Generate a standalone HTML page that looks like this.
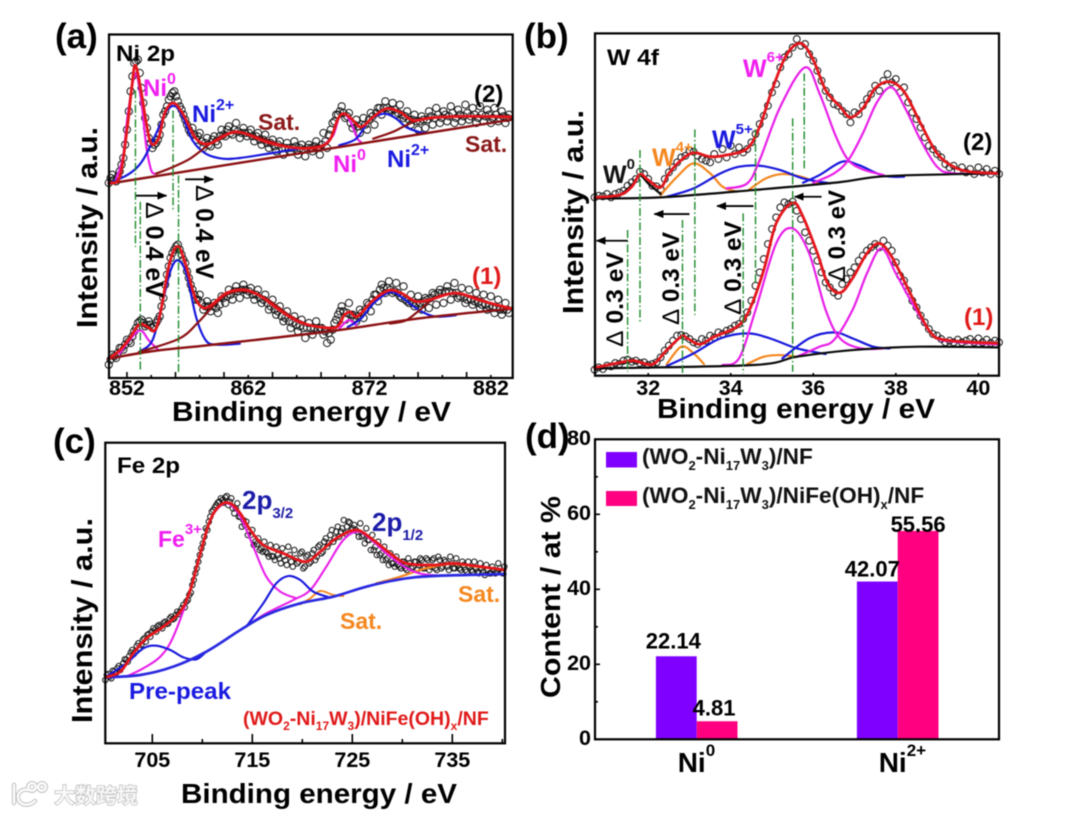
<!DOCTYPE html>
<html lang="en">
<head>
<meta charset="utf-8">
<title>XPS spectra and content chart</title>
<style>
html,body{margin:0;padding:0;background:#fff;width:1080px;height:813px;overflow:hidden}
svg{display:block;filter:blur(0.45px)}
text{font-family:"Liberation Sans","Noto Sans CJK SC",sans-serif;font-weight:bold}
</style>
</head>
<body>
<svg id="figure" xmlns="http://www.w3.org/2000/svg" width="1080" height="813" viewBox="0 0 1080 813">
<defs>
<marker id="arrow-head" markerUnits="userSpaceOnUse" markerWidth="10" markerHeight="8" refX="9" refY="4" orient="auto"><polygon points="0,0 10,4 0,8" fill="#000"/></marker>
</defs>
<rect width="1080" height="813" fill="#fff"/>
<g id="panel-a"></g>
<g id="panel-b"></g>
<g id="panel-c"></g>
<g id="panel-d"></g>

<!-- Panel a text -->
<text x="55" y="48" font-size="35">(a)</text>
<text x="172" y="421" font-size="28" textLength="279" lengthAdjust="spacingAndGlyphs">Binding energy / eV</text>
<text transform="translate(97,328) rotate(-90)" font-size="29" textLength="201" lengthAdjust="spacingAndGlyphs">Intensity / a.u.</text>
<text x="116" y="61" font-size="22" textLength="59" lengthAdjust="spacingAndGlyphs">Ni 2p</text>
<text x="143" y="96" font-size="24" fill="#f01ff0">Ni<tspan dy="-12" font-size="16">0</tspan></text>
<text x="192" y="122" font-size="24" fill="#1a1ae0">Ni<tspan dy="-12" font-size="16">2+</tspan></text>
<text x="258" y="130" font-size="23" fill="#8b1a1a">Sat.</text>
<text x="474" y="102" font-size="24" fill="#000">(2)</text>
<text x="465" y="152" font-size="23" fill="#8b1a1a">Sat.</text>
<text x="333" y="172" font-size="24" fill="#f01ff0">Ni<tspan dy="-12" font-size="16">0</tspan></text>
<text x="387" y="167" font-size="24" fill="#1a1ae0">Ni<tspan dy="-12" font-size="16">2+</tspan></text>
<text x="472" y="284" font-size="24" fill="#e01a1a">(1)</text>
<text transform="translate(146,202) rotate(90)" font-size="25" textLength="96" lengthAdjust="spacingAndGlyphs"><tspan font-weight="normal">Δ</tspan> 0.4 eV</text>
<text transform="translate(196,185) rotate(90)" font-size="25" textLength="94" lengthAdjust="spacingAndGlyphs"><tspan font-weight="normal">Δ</tspan> 0.4 eV</text>

<!-- Panel b text -->
<text x="524" y="48" font-size="35">(b)</text>
<text x="657" y="418" font-size="28" textLength="278" lengthAdjust="spacingAndGlyphs">Binding energy / eV</text>
<text transform="translate(583,314) rotate(-90)" font-size="29" textLength="204" lengthAdjust="spacingAndGlyphs">Intensity / a.u.</text>
<text x="607" y="65" font-size="22" textLength="52" lengthAdjust="spacingAndGlyphs">W 4f</text>
<text x="743" y="77" font-size="25" fill="#f01ff0">W<tspan dy="-15" font-size="15">6+</tspan></text>
<text x="712" y="148" font-size="25" fill="#1a1ae0">W<tspan dy="-14" font-size="15">5+</tspan></text>
<text x="652" y="166" font-size="25" fill="#f5871f">W<tspan dy="-14" font-size="15">4+</tspan></text>
<text x="603" y="183" font-size="25" fill="#111">W<tspan dy="-14" font-size="15">0</tspan></text>
<text x="963" y="150" font-size="24" fill="#000">(2)</text>
<text x="964" y="325" font-size="24" fill="#e01a1a">(1)</text>
<text transform="translate(623,347) rotate(-90)" font-size="24" textLength="95" lengthAdjust="spacingAndGlyphs"><tspan font-weight="normal">Δ</tspan> 0.3 eV</text>
<text transform="translate(679,325) rotate(-90)" font-size="24" textLength="93" lengthAdjust="spacingAndGlyphs"><tspan font-weight="normal">Δ</tspan> 0.3 eV</text>
<text transform="translate(741,315) rotate(-90)" font-size="24" textLength="94" lengthAdjust="spacingAndGlyphs"><tspan font-weight="normal">Δ</tspan> 0.3 eV</text>
<text transform="translate(845,282) rotate(-90)" font-size="24" textLength="92" lengthAdjust="spacingAndGlyphs"><tspan font-weight="normal">Δ</tspan> 0.3 eV</text>

<!-- Panel c text -->
<text x="53" y="453" font-size="35">(c)</text>
<text x="181" y="803" font-size="28" textLength="276" lengthAdjust="spacingAndGlyphs">Binding energy / eV</text>
<text transform="translate(92,723) rotate(-90)" font-size="29" textLength="205" lengthAdjust="spacingAndGlyphs">Intensity / a.u.</text>
<text x="117" y="473" font-size="22" textLength="63" lengthAdjust="spacingAndGlyphs">Fe 2p</text>
<text x="158" y="547" font-size="23" fill="#f01ff0">Fe<tspan dy="-13" font-size="15">3+</tspan></text>
<text x="242" y="509" font-size="26" fill="#1c1ca8">2p<tspan dy="9" font-size="15">3/2</tspan></text>
<text x="372" y="531" font-size="26" fill="#1c1ca8">2p<tspan dy="9" font-size="15">1/2</tspan></text>
<text x="129" y="699" font-size="23" fill="#1a1ae0" textLength="102" lengthAdjust="spacingAndGlyphs">Pre-peak</text>
<text x="340" y="629" font-size="23" fill="#f5871f">Sat.</text>
<text x="458" y="602" font-size="23" fill="#f5871f">Sat.</text>
<text x="243" y="725" font-size="19.5" fill="#e01a1a">(WO<tspan dy="5" font-size="12">2</tspan><tspan dy="-5">-Ni</tspan><tspan dy="5" font-size="12">17</tspan><tspan dy="-5">W</tspan><tspan dy="5" font-size="12">3</tspan><tspan dy="-5">)/NiFe(OH)</tspan><tspan dy="5" font-size="12">x</tspan><tspan dy="-5">/NF</tspan></text>

<!-- Panel d text -->
<text x="525" y="448" font-size="35">(d)</text>
<text transform="translate(560,698) rotate(-90)" font-size="28" textLength="202" lengthAdjust="spacingAndGlyphs">Content / at %</text>
<rect x="606" y="452" width="31" height="15.5" fill="#8000ff"/>
<rect x="606" y="491" width="31" height="15" fill="#ff0080"/>
<text x="642" y="464" font-size="22.6" fill="#111">(WO<tspan dy="6" font-size="13">2</tspan><tspan dy="-6">-Ni</tspan><tspan dy="6" font-size="13">17</tspan><tspan dy="-6">W</tspan><tspan dy="6" font-size="13">3</tspan><tspan dy="-6">)/NF</tspan></text>
<text x="642" y="503" font-size="22.6" fill="#111">(WO<tspan dy="6" font-size="13">2</tspan><tspan dy="-6">-Ni</tspan><tspan dy="6" font-size="13">17</tspan><tspan dy="-6">W</tspan><tspan dy="6" font-size="13">3</tspan><tspan dy="-6">)/NiFe(OH)</tspan><tspan dy="6" font-size="13">x</tspan><tspan dy="-6">/NF</tspan></text>

<!-- Watermark -->
<g fill="none" stroke="#bdbdbd" stroke-width="4.4" stroke-linecap="round">
<path d="M14 785 L14 803"/>
<path d="M29 790 C19 788 16 796 19 801 C22 806 30 806 35 801"/>
<circle cx="32" cy="787" r="3.8"/>
<circle cx="42" cy="787" r="3.8"/>
</g>
<g fill="none" stroke="#fbfbfb" stroke-width="2.6" stroke-linecap="round">
<path d="M14 785 L14 803"/>
<path d="M29 790 C19 788 16 796 19 801 C22 806 30 806 35 801"/>
<circle cx="32" cy="787" r="3.8"/>
<circle cx="42" cy="787" r="3.8"/>
</g>
<text x="54" y="803" font-size="21" fill="#f8f8f8" stroke="#b8b8b8" stroke-width="1.3" paint-order="stroke" font-weight="normal" style="font-family:'Noto Sans CJK SC',sans-serif">大数跨境</text>
</svg>

<script>
/* ---------- Panel (a) Ni 2p: binding energy (eV), intensity (counts) ---------- */
const aMajorTicks=[852,856,860,864,868,872,876,880];
const aMinorTicks=[854,858,862,866,870,874,878,882];
const aTickLabels=[852,862,872,882];
const a2ObsStart=850.5;
const a1ObsStart=850.5;
const a2ObsBStart=850.65;
const a1ObsBStart=850.65;
const aObsStep=0.3;
const a2Obs=[585,610,590,620,660,745,860,945,955,870,780,720,690,705,730,790,815,845,860,830,805,775,745,750,715,735,690,720,695,725,700,745,725,755,730,765,720,750,725,745,710,735,700,730,690,715,680,710,670,705,680,710,670,700,665,700,680,710,670,735,690,745,770,790,815,780,795,750,775,735,780,745,795,760,810,790,830,800,825,790,820,780,800,760,790,745,785,750,800,760,810,765,800,770,815,765,805,770,820,775,810,765,815,770,805,765,810,770,800,765,790];
const a2ObsB=[600,595,605,640,700,800,905,950,915,825,750,705,700,715,760,800,835,855,845,815,790,760,735,730,725,710,705,700,715,710,725,730,745,735,745,740,735,735,735,725,725,715,715,705,705,695,700,690,690,690,690,695,690,685,690,690,695,690,700,710,730,765,790,800,795,785,765,760,755,760,760,775,785,795,810,810,810,805,805,795,790,785,775,775,770,770,775,775,785,780,790,780,790,785,795,780,790,785,795,785,790,780,790,785,790,780,790,780,785,780];
const a1Obs=[40,70,60,90,85,115,105,140,165,175,155,170,150,165,185,240,310,360,385,400,370,345,300,265,235,250,205,230,200,225,195,245,225,265,235,275,240,280,250,270,235,265,225,250,205,235,190,215,170,200,150,185,140,175,120,165,130,170,150,130,105,115,165,190,215,175,225,190,170,205,180,225,200,250,230,280,255,290,255,285,245,275,230,250,215,245,205,240,210,255,220,265,225,275,235,285,240,270,225,265,220,255,210,250,205,245,195,235,190,225,195];
const a1ObsB=[55,65,75,90,100,110,125,150,170,165,160,160,155,175,215,280,335,375,395,385,355,320,280,250,235,225,215,215,215,210,220,240,245,250,260,260,265,265,260,250,250,240,235,225,215,205,200,185,180,170,165,160,155,150,150,150,150,145,150,140,135,145,175,200,200,195,190,180,185,195,205,220,235,250,265,270,270,265,260,255,240,235,225,225,225,225,230,235,240,250,255,255,260,260,255,255,245,240,235,235,230,225,220,220,215,210,210,205,205,205];
const a2Fit=[[850.5,585],[851.4,603],[852,743],[852.4,873],[852.7,938],[853.2,853],[853.6,763],[854,703],[854.6,718],[855.1,793],[855.8,825],[856.6,793],[857.7,718],[858.8,703],[860.5,735],[861.6,735],[863.5,708],[865.7,691],[867.6,691],[868.7,713],[869.4,778],[869.9,793],[870.5,778],[871.3,753],[872.3,783],[873.4,808],[874.5,798],[875.6,773],[877.2,781],[880,785],[883.7,783]];
const a2Base=[[850.5,583],[883.7,775]];
const a2Ni0A=[[851.1,598],[851.67,663],[852.08,793],[852.7,913],[853.2,823],[853.6,693],[854,623],[854.3,613]];
const a2Ni2A=[[850.5,583],[852.2,613],[853.3,653],[854.4,733],[855.3,803],[856,815],[856.6,783],[857.4,713],[858.5,673],[859.9,658],[861.3,660],[864,675],[866.2,688]];
const a2SatA=[[854.4,613],[855.8,633],[857.2,658],[858.5,693],[859.9,728],[861.3,736],[862.6,725],[864,708],[865.4,693],[866.8,691],[868.2,698]];
const a2Ni0B=[[868.2,698],[869,728],[869.5,783],[870,791],[870.5,763],[871,718],[871.3,708]];
const a2Ni2B=[[869.5,698],[870.9,718],[872,773],[873.2,793],[874.2,778],[875,753],[876.1,738],[876.7,736]];
const a2SatB=[[872.3,718],[873.9,738],[875,758],[876.4,778],[879.1,785],[883.7,785]];
const a1Fit=[[850.5,58],[851.4,83],[852.2,118],[853,160],[853.7,153],[854.3,143],[854.8,203],[855.5,343],[856.2,395],[856.9,333],[857.6,243],[858.3,210],[859.1,223],[860.2,255],[861.6,265],[862.9,248],[864.6,203],[866.2,168],[867.9,153],[869.3,153],[869.9,188],[870.4,198],[871,185],[872.3,233],[873.6,263],[874.7,253],[875.8,230],[877,235],[879.1,255],[881.1,233],[883.7,208]];
const a1Base=[[850.5,58],[854.2,81],[859.1,100],[868.9,141],[875.9,178],[883.7,208]];
const a1Ni0A=[[851.4,73],[852.2,113],[853.1,143],[853.8,113],[854.6,83]];
const a1Ni2A=[[853,78],[854.1,113],[854.9,223],[855.6,323],[856.2,353],[856.9,313],[857.7,183],[858.5,113],[859.4,100],[861.3,103]];
const a1SatA=[[853,78],[856.3,118],[857.9,168],[859.3,223],[860.4,253],[861.7,261],[863.5,238],[865.4,188],[867.1,158],[869,148]];
const a1Ni0B=[[869.5,148],[870.2,173],[870.6,168],[870.9,158]];
const a1Ni2B=[[870.2,153],[871.3,178],[872.3,223],[873.7,258],[874.8,238],[875.9,208],[877.3,185],[879.1,188]];
const a1SatB=[[873.7,163],[875,173],[876.1,203],[877.5,243],[879.1,253],[880.8,241],[882.4,218],[883.7,210]];
const aGuides=[[852.7,863,393],[853.1,528,18],[855.8,803,498],[856.25,608,18]];
const aArrows=[[852.75,855.25,547],[856.8,859.1,596]];

/* ---------- Panel (b) W 4f ---------- */
const bTicks=[32,34,36,38,40];
const bObsStart=30.7;
const bObsStep=0.1;
const b2Obs=[535,540,538,545,535,545,550,555,570,580,590,612,605,590,570,568,560,590,610,625,640,655,660,675,672,660,650,645,640,665,650,680,655,690,665,685,670,680,700,725,755,780,810,850,875,925,955,965,985,1010,990,995,965,945,915,885,855,835,815,810,795,785,760,790,785,810,830,845,870,855,885,905,880,890,850,865,820,790,770,745,715,690,680,665,655,635,625,630,615,625,610,620,605,625,610,620,605,615,605];
const b1Obs=[18,25,20,30,28,38,35,45,48,42,45,38,40,32,35,40,55,75,90,105,120,122,118,110,100,95,110,105,120,115,130,125,135,140,150,155,170,190,225,270,310,350,395,440,475,505,520,515,522,495,470,430,405,375,345,310,280,265,250,240,275,290,310,325,345,360,375,385,395,385,405,390,375,340,300,285,255,225,205,180,160,140,125,120,110,100,105,100,108,100,105,110,100,112,100,108,98,105,100];
const b2Fit=[[30.7,535],[31.3,542],[31.6,567],[31.8,604],[32,587],[32.3,565],[32.5,607],[32.8,647],[33.1,669],[33.5,657],[33.9,662],[34.4,682],[34.7,747],[35,857],[35.35,962],[35.7,997],[36,947],[36.3,857],[36.65,807],[36.9,775],[37.2,802],[37.5,862],[37.85,882],[38.2,852],[38.6,757],[39,667],[39.4,627],[39.8,612],[40.5,607]];
const b2Base=[[30.7,532],[32.3,535],[34.55,557],[36.6,580],[37.8,599],[40.5,607]];
const b2W0=[[31.3,539],[31.6,572],[31.8,600],[32,577],[32.3,545]];
const b2W4A=[[32.3,542],[32.7,597],[33.1,637],[33.5,607],[33.8,567],[34.15,552]];
const b2W4B=[[34.45,559],[34.85,592],[35.25,605],[35.7,597],[36.15,577]];
const b2W5A=[[32.45,537],[33.1,562],[33.75,607],[34.2,627],[34.7,630],[35.2,617],[35.75,592],[36.4,577]];
const b2W5B=[[35.75,579],[36.15,602],[36.7,642],[37.1,632],[37.7,600],[38.2,597]];
const b2W6A=[[33.9,562],[34.4,577],[34.7,647],[35.2,807],[35.8,925],[36.15,847],[36.55,717],[36.85,647],[37.2,619],[37.7,602]];
const b2W6B=[[36,579],[36.5,607],[36.85,647],[37.2,727],[37.55,822],[37.9,865],[38.25,797],[38.6,707],[39,627],[39.4,607],[40.5,607]];
const b1Fit=[[30.7,24],[31.3,39],[31.65,45],[32.1,34],[32.45,77],[32.8,117],[32.95,112],[33.25,94],[33.6,117],[34.15,147],[34.45,197],[34.8,317],[35.1,457],[35.5,519],[35.75,477],[36.1,367],[36.35,277],[36.65,249],[36.95,292],[37.3,367],[37.6,397],[37.9,357],[38.35,247],[38.8,137],[39.2,107],[40.5,97]];
const b1Base=[[30.7,22],[34.55,32],[35.6,57],[36.95,77],[38.55,87],[40.5,85]];
const b1W0=[[31.3,35],[31.65,42],[32.1,32]];
const b1W4A=[[32.45,35],[32.8,87],[33.1,67],[33.35,35]];
const b1W4B=[[34.4,35],[34.8,57],[35.2,62],[35.6,57]];
const b1W5A=[[32.45,29],[33.1,67],[33.75,112],[34.4,127],[34.95,112],[35.6,82],[36.3,65]];
const b1W5B=[[35.25,52],[35.9,112],[36.5,130],[36.95,112],[37.45,87],[37.85,82]];
const b1W6A=[[33.8,32],[34.2,52],[34.6,197],[35.1,397],[35.5,442],[35.9,367],[36.3,197],[36.65,112],[37.15,82],[37.7,82]];
const b1W6B=[[35.6,57],[36.15,87],[36.5,107],[36.95,197],[37.3,307],[37.65,382],[38,307],[38.4,217],[38.9,122],[39.4,102],[40.5,94]];
const bGuides=[[31.8,677,162],[31.5,437,12],[33.13,739,182],[32.83,467,2],[34.6,739,277],[34.3,487,7],[35.78,907,617],[35.5,772,12]];
const bArrows=[[31.5,30.75,405],[33,32.15,485],[34.55,33.67,509],[36.2,35.55,537]];

/* ---------- Panel (c) Fe 2p ---------- */
const cMajorTicks=[705,715,725,735];
const cMinorTicks=[710,720,730,740];
const cTickLabels=[705,715,725,735];
const cObsStart=700.3;
const cObsBStart=700.45;
const cObsStep=0.3;
const cObs=[190,208,195,215,225,220,240,250,262,280,275,300,295,315,325,320,345,335,355,345,365,360,380,375,395,395,415,425,445,475,510,545,585,620,640,680,700,715,725,730,738,715,735,690,720,680,670,665,635,640,605,615,585,605,570,595,560,590,555,585,550,590,545,580,540,570,525,560,540,570,550,590,570,605,590,625,605,635,620,645,630,665,640,655,635,660,625,645,610,625,590,605,570,590,555,570,540,560,530,545,525,555,525,545,520,555,525,555,520,550,525,560,525,550,530,560,525,555,525,545,520,545,520,545,515,540,515,535,510,530,510,540,515,530];
const cObsB=[205,200,218,210,232,228,252,245,272,268,292,285,310,305,328,335,340,352,350,362,358,375,372,385,388,405,408,430,452,490,525,565,600,645,665,695,708,722,735,722,742,725,705,705,680,650,655,625,625,595,598,580,575,575,560,562,550,565,540,562,535,565,530,555,545,575,530,565,545,580,560,595,575,615,600,640,615,650,635,670,650,662,645,640,620,620,600,610,580,580,565,565,550,550,535,540,530,535,525,545,520,540,530,545,535,550,525,550,530,555,520,550,530,545,520,540,525,535,520,535,515,530,515,525,510,525,505,520,510,520,515,525,510];
const cFit=[[700.3,198],[701.8,215],[703.1,270],[704.4,315],[706.1,350],[707.8,395],[708.8,460],[709.8,570],[710.8,670],[711.8,715],[712.8,720],[713.8,690],[714.8,640],[716.1,595],[718.1,570],[720.3,545],[721.8,575],[723.4,615],[725.4,640],[727.1,610],[728.8,570],[730.4,540],[733.1,535],[735.1,540],[737.1,533],[740.3,520]];
const cBase=[[700.3,198],[703.8,205],[707.1,230],[710.4,275],[713.8,340],[716.4,385],[719.8,420],[723.1,440],[726.4,470],[729.8,492],[733.1,502],[740.3,508]];
const cPrePeak=[[700.3,198],[702.4,240],[704.1,285],[705.4,293],[706.8,280],[708.1,258],[709.4,252],[710.4,275]];
const cBlueB=[[714.4,350],[716.1,420],[717.4,480],[718.6,502],[719.8,490],[721.1,455],[722.8,437]];
const cFe32=[[702.4,200],[704.1,225],[705.8,260],[707.1,320],[708.8,460],[709.8,570],[710.8,670],[711.8,712],[712.7,718],[713.8,680],[715.1,590],[716.4,500],[717.8,455],[719.4,435]];
const cFe12=[[714.4,352],[716.4,390],[719.1,430],[720.8,460],[722.4,530],[724.1,610],[725.6,635],[727.1,605],[728.8,560],[730.8,520],[732.8,505],[736.4,505],[740.3,508]];
const cSatA=[[719.8,417],[720.8,435],[721.8,457],[723.1,445],[724.1,442]];
const cSatB=[[727.4,480],[729.8,500],[732.1,523],[734.8,538],[737.4,530],[740.3,520]];

/* ---------- Panel (d) content bars ---------- */
const dCategoryBase=['Ni','Ni'];
const dCategorySup=['0','2+'];
const dSeriesNF=[22.14,42.07];
const dSeriesNiFe=[4.81,55.56];
const dYMajor=[0,20,40,60,80];
const dYMinor=[10,30,50,70];

/* ---------- Drawing ---------- */
const SVG_NS='http://www.w3.org/2000/svg';
const COLORS={red:'#e3161c',dark:'#8b1012',mag:'#e81fe8',blue:'#1818dc',orange:'#f5871f',black:'#0a0a0a',guide:'#1c8a2a'};

function linear(d0,d1,r0,r1){return function(v){return r0+(v-d0)*(r1-r0)/(d1-d0);};}

function drawFrame(group,left,top,right,bottom,name){
  const el=document.createElementNS(SVG_NS,'rect');
  
  
  el.setAttribute('x',left);el.setAttribute('y',top);
  el.setAttribute('width',right-left);el.setAttribute('height',bottom-top);
  el.setAttribute('fill','none');el.setAttribute('stroke','#000');el.setAttribute('stroke-width','2.2');
  group.appendChild(el);
}
function drawTick(group,x1,y1,x2,y2,name){
  const el=document.createElementNS(SVG_NS,'line');
  
  
  el.setAttribute('x1',x1);el.setAttribute('y1',y1);el.setAttribute('x2',x2);el.setAttribute('y2',y2);
  el.setAttribute('stroke','#000');el.setAttribute('stroke-width','1.6');
  group.appendChild(el);
}
function drawLabel(group,x,y,text,size,anchor,name){
  const el=document.createElementNS(SVG_NS,'text');
  
  
  el.setAttribute('x',x);el.setAttribute('y',y);
  el.setAttribute('font-size',size);el.setAttribute('text-anchor',anchor);
  el.textContent=text;
  group.appendChild(el);
}
function smoothPath(points){
  let d='M'+points[0][0].toFixed(2)+' '+points[0][1].toFixed(2);
  for(let i=0;i<points.length-1;i++){
    const p0=points[i-1]||points[i],p1=points[i],p2=points[i+1],p3=points[i+2]||p2;
    const c1x=p1[0]+(p2[0]-p0[0])/6,c1y=p1[1]+(p2[1]-p0[1])/6;
    const c2x=p2[0]-(p3[0]-p1[0])/6,c2y=p2[1]-(p3[1]-p1[1])/6;
    d+='C'+c1x.toFixed(2)+' '+c1y.toFixed(2)+' '+c2x.toFixed(2)+' '+c2y.toFixed(2)+' '+p2[0].toFixed(2)+' '+p2[1].toFixed(2);
  }
  return d;
}
function drawCurve(group,series,sx,sy,color,width,name){
  const el=document.createElementNS(SVG_NS,'path');
  
  
  el.setAttribute('d',smoothPath(series.map(function(p){return [sx(p[0]),sy(p[1])];})));
  el.setAttribute('fill','none');el.setAttribute('stroke',color);
  el.setAttribute('stroke-width',width);el.setAttribute('stroke-linejoin','round');el.setAttribute('stroke-linecap','round');
  group.appendChild(el);
}
function drawObserved(group,start,step,values,sx,sy,radius,name){
  const wrap=document.createElementNS(SVG_NS,'g');
  
  
  values.forEach(function(v,i){
    const el=document.createElementNS(SVG_NS,'circle');
    
    
    el.setAttribute('cx',sx(start+i*step).toFixed(2));
    el.setAttribute('cy',sy(v).toFixed(2));
    el.setAttribute('r',radius);
    el.setAttribute('fill','none');el.setAttribute('stroke','#111');el.setAttribute('stroke-width','1');
    wrap.appendChild(el);
  });
  group.appendChild(wrap);
}
function drawGuides(group,guides,sx,sy,name){
  guides.forEach(function(g){
    const el=document.createElementNS(SVG_NS,'line');
    
    
    el.setAttribute('x1',sx(g[0]));el.setAttribute('x2',sx(g[0]));
    el.setAttribute('y1',sy(g[1]));el.setAttribute('y2',sy(g[2]));
    el.setAttribute('stroke',COLORS.guide);el.setAttribute('stroke-width','1.4');
    el.setAttribute('stroke-dasharray','8 2.5 1.5 2.5');
    group.appendChild(el);
  });
}
function drawArrows(group,arrows,sx,sy,name){
  arrows.forEach(function(a){
    const el=document.createElementNS(SVG_NS,'line');
    
    
    el.setAttribute('x1',sx(a[0]));el.setAttribute('x2',sx(a[1]));
    el.setAttribute('y1',sy(a[2]));el.setAttribute('y2',sy(a[2]));
    el.setAttribute('stroke','#000');el.setAttribute('stroke-width','1.8');
    el.setAttribute('marker-end','url(#arrow-head)');
    group.appendChild(el);
  });
}

/* Panel a */
(function(){
  const g=document.getElementById('panel-a');
  const sx=linear(850.52,883.8,109,512.7),sy=linear(0,1029,378,35);
  drawObserved(g,a2ObsStart,aObsStep,a2Obs,sx,sy,3.6,'observed-curve-2');
  drawObserved(g,a2ObsBStart,aObsStep,a2ObsB,sx,sy,3.6,'observed-curve-2-extra');
  drawObserved(g,a1ObsStart,aObsStep,a1Obs,sx,sy,3.6,'observed-curve-1');
  drawObserved(g,a1ObsBStart,aObsStep,a1ObsB,sx,sy,3.6,'observed-curve-1-extra');
  drawCurve(g,a2Ni0A,sx,sy,COLORS.mag,2.2,'ni0-peak-2p32-curve-2');
  drawCurve(g,a2Ni0B,sx,sy,COLORS.mag,2.2,'ni0-peak-2p12-curve-2');
  drawCurve(g,a2Ni2A,sx,sy,COLORS.blue,2.2,'ni2-peak-2p32-curve-2');
  drawCurve(g,a2Ni2B,sx,sy,COLORS.blue,2.2,'ni2-peak-2p12-curve-2');
  drawCurve(g,a1Ni0A,sx,sy,COLORS.mag,2.2,'ni0-peak-2p32-curve-1');
  drawCurve(g,a1Ni0B,sx,sy,COLORS.mag,2.2,'ni0-peak-2p12-curve-1');
  drawCurve(g,a1Ni2A,sx,sy,COLORS.blue,2.2,'ni2-peak-2p32-curve-1');
  drawCurve(g,a1Ni2B,sx,sy,COLORS.blue,2.2,'ni2-peak-2p12-curve-1');
  drawCurve(g,a2SatA,sx,sy,COLORS.dark,2.2,'satellite-a-curve-2');
  drawCurve(g,a2SatB,sx,sy,COLORS.dark,2.2,'satellite-b-curve-2');
  drawCurve(g,a1SatA,sx,sy,COLORS.dark,2.2,'satellite-a-curve-1');
  drawCurve(g,a1SatB,sx,sy,COLORS.dark,2.2,'satellite-b-curve-1');
  drawCurve(g,a2Base,sx,sy,COLORS.dark,2.4,'baseline-curve-2');
  drawCurve(g,a1Base,sx,sy,COLORS.dark,2.4,'baseline-curve-1');
  drawCurve(g,a2Fit,sx,sy,COLORS.red,2.8,'fit-curve-2');
  drawCurve(g,a1Fit,sx,sy,COLORS.red,2.8,'fit-curve-1');
  drawGuides(g,aGuides,sx,sy,'peak-guide-line');
  drawArrows(g,aArrows,sx,sy,'shift-arrow');
  aMajorTicks.forEach(function(t){drawTick(g,sx(t),378,sx(t),372,'x-major-tick');});
  aMinorTicks.forEach(function(t){drawTick(g,sx(t),378,sx(t),375,'x-minor-tick');});
  aTickLabels.forEach(function(t){drawLabel(g,sx(t),395,String(t),21.5,'middle','x-tick-label');});
  drawFrame(g,109,34.5,512.7,378,'panel-a-frame');
})();

/* Panel b */
(function(){
  const g=document.getElementById('panel-b');
  const sx=linear(30.71,40.5,595,999),sy=linear(0,1027,375.7,33.4);
  drawObserved(g,bObsStart,bObsStep,b2Obs,sx,sy,3.4,'observed-curve-2');
  drawObserved(g,bObsStart,bObsStep,b1Obs,sx,sy,3.4,'observed-curve-1');
  [[b2W4A,COLORS.orange,'w4-peak-a-curve-2'],[b2W4B,COLORS.orange,'w4-peak-b-curve-2'],[b2W5A,COLORS.blue,'w5-peak-a-curve-2'],[b2W5B,COLORS.blue,'w5-peak-b-curve-2'],[b2W6A,COLORS.mag,'w6-peak-a-curve-2'],[b2W6B,COLORS.mag,'w6-peak-b-curve-2'],[b2W0,COLORS.black,'w0-peak-curve-2'],[b2Base,COLORS.black,'baseline-curve-2'],[b2Fit,COLORS.red,'fit-curve-2'],
   [b1W4A,COLORS.orange,'w4-peak-a-curve-1'],[b1W4B,COLORS.orange,'w4-peak-b-curve-1'],[b1W5A,COLORS.blue,'w5-peak-a-curve-1'],[b1W5B,COLORS.blue,'w5-peak-b-curve-1'],[b1W6A,COLORS.mag,'w6-peak-a-curve-1'],[b1W6B,COLORS.mag,'w6-peak-b-curve-1'],[b1W0,COLORS.black,'w0-peak-curve-1'],[b1Base,COLORS.black,'baseline-curve-1'],[b1Fit,COLORS.red,'fit-curve-1']
  ].forEach(function(c){drawCurve(g,c[0],sx,sy,c[1],c[1]===COLORS.red?2.8:2.2,c[2]);});
  drawGuides(g,bGuides,sx,sy,'peak-guide-line');
  drawArrows(g,bArrows,sx,sy,'shift-arrow');
  bTicks.forEach(function(t){
    drawTick(g,sx(t),375.7,sx(t),373,'x-major-tick');
    drawLabel(g,sx(t),395,String(t),21.5,'middle','x-tick-label');
  });
  drawFrame(g,595,33.4,999,375.7,'panel-b-frame');
})();

/* Panel c */
(function(){
  const g=document.getElementById('panel-c');
  const sx=linear(700.3,740.27,105.3,505),sy=linear(0,902,743.3,442.7);
  drawObserved(g,cObsStart,cObsStep,cObs,sx,sy,2.7,'observed-curve');
  drawObserved(g,cObsBStart,cObsStep,cObsB,sx,sy,2.7,'observed-curve-extra');
  drawCurve(g,cSatA,sx,sy,COLORS.orange,1.9,'satellite-peak-a');
  drawCurve(g,cSatB,sx,sy,COLORS.orange,2.2,'satellite-peak-b');
  drawCurve(g,cFe32,sx,sy,COLORS.mag,2.1,'fe3-2p32-peak');
  drawCurve(g,cFe12,sx,sy,COLORS.mag,2.1,'fe3-2p12-peak');
  drawCurve(g,cPrePeak,sx,sy,COLORS.blue,2.1,'pre-peak-curve');
  drawCurve(g,cBlueB,sx,sy,COLORS.blue,2.1,'second-blue-peak');
  drawCurve(g,cBase,sx,sy,'#2a2ae0',2.7,'baseline-curve');
  drawCurve(g,cFit,sx,sy,COLORS.red,2.8,'fit-curve');
  cMajorTicks.forEach(function(t){drawTick(g,sx(t),743.3,sx(t),734,'x-major-tick');});
  cMinorTicks.forEach(function(t){drawTick(g,sx(t),743.3,sx(t),739,'x-minor-tick');});
  cTickLabels.forEach(function(t){drawLabel(g,sx(t),767,String(t),21.5,'middle','x-tick-label');});
  drawFrame(g,105.3,442.7,505,743.3,'panel-c-frame');
})();

/* Panel d */
(function(){
  const g=document.getElementById('panel-d');
  const sy=linear(0,80,739.3,439.3);
  const catX=linear(0,1,696.7,897.7);
  const barW=40.8;
  dCategoryBase.forEach(function(base,i){
    const cx=catX(i);
    const b1=document.createElementNS(SVG_NS,'rect');
    
    
    b1.setAttribute('x',cx-barW);b1.setAttribute('width',barW);
    b1.setAttribute('y',sy(dSeriesNF[i]));b1.setAttribute('height',sy(0)-sy(dSeriesNF[i]));
    b1.setAttribute('fill','#8000ff');
    g.appendChild(b1);
    const b2=document.createElementNS(SVG_NS,'rect');
    
    
    b2.setAttribute('x',cx);b2.setAttribute('width',barW);
    b2.setAttribute('y',sy(dSeriesNiFe[i]));b2.setAttribute('height',sy(0)-sy(dSeriesNiFe[i]));
    b2.setAttribute('fill','#ff0080');
    g.appendChild(b2);
    const cat=document.createElementNS(SVG_NS,'text');
    
    
    cat.setAttribute('x',cx-19);cat.setAttribute('y',772);cat.setAttribute('font-size',28);
    cat.appendChild(document.createTextNode(base));
    const sup=document.createElementNS(SVG_NS,'tspan');
    
    
    sup.setAttribute('dy','-16');sup.setAttribute('font-size','17');
    sup.textContent=dCategorySup[i];
    cat.appendChild(sup);
    g.appendChild(cat);
  });
  dSeriesNF.forEach(function(v,i){
    drawLabel(g,catX(i)-barW/2-(i===0?3:5),sy(v)-(i===0?8:5),v.toFixed(2),22,'middle','bar-value-label');
  });
  dSeriesNiFe.forEach(function(v,i){
    drawLabel(g,catX(i)+barW/2-(i===0?3:0),sy(v)+(i===0?-6:1),v.toFixed(2),22,'middle','bar-value-label');
  });
  dYMajor.forEach(function(t){
    drawTick(g,595,sy(t),600,sy(t),'y-major-tick');
    drawLabel(g,591,sy(t)+5.5,String(t),21.5,'end','y-tick-label');
  });
  dYMinor.forEach(function(t){drawTick(g,595,sy(t),598,sy(t),'y-minor-tick');});
  drawFrame(g,595,439.3,999,739.3,'panel-d-frame');
})();
</script>
</body>
</html>
